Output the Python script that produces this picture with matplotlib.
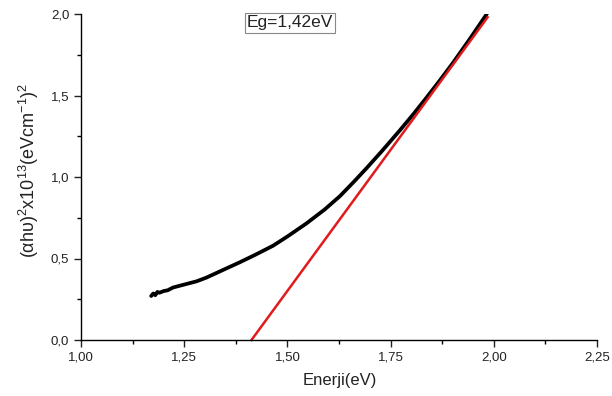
import matplotlib
matplotlib.use("Agg")
import matplotlib.pyplot as plt
from matplotlib.ticker import MultipleLocator, FuncFormatter

plt.rcParams['font.family'] = ['Liberation Sans', 'DejaVu Sans']
plt.rcParams['mathtext.default'] = 'regular'

energy = [1.170, 1.175, 1.180, 1.185, 1.190, 1.20, 1.21, 1.223, 1.25, 1.28,
          1.304, 1.34, 1.384, 1.42, 1.465, 1.50, 1.546, 1.59, 1.627, 1.66,
          1.691, 1.73, 1.772, 1.805, 1.837, 1.87, 1.901, 1.94, 1.983]
absorb = [0.27, 0.285, 0.275, 0.295, 0.29, 0.30, 0.305, 0.322, 0.34, 0.36,
          0.383, 0.425, 0.476, 0.52, 0.578, 0.635, 0.715, 0.80, 0.882, 0.968,
          1.052, 1.162, 1.285, 1.385, 1.487, 1.595, 1.70, 1.84, 2.00]

# linear fit (Tauc extrapolation)
fit_x = [1.413, 1.985]
fit_y = [0.0, 1.98]
gap_label = "Eg=1,42eV"

fig = plt.figure(figsize=(6.12, 3.96), dpi=100)
ax = fig.add_axes([81 / 612, 56 / 396, 516 / 612, 326 / 396])

ax.plot(energy, absorb, color='black', lw=2.7, solid_capstyle='round')
ax.plot(fit_x, fit_y, color='#e01b1b', lw=1.8, clip_on=False)

ax.set_xlim(1.0, 2.25)
ax.set_ylim(0.0, 2.0)
ax.xaxis.set_major_locator(MultipleLocator(0.25))
ax.xaxis.set_minor_locator(MultipleLocator(0.125))
ax.yaxis.set_major_locator(MultipleLocator(0.5))
ax.yaxis.set_minor_locator(MultipleLocator(0.25))
ax.xaxis.set_major_formatter(FuncFormatter(lambda v, p: ('%.2f' % v).replace('.', ',')))
ax.yaxis.set_major_formatter(FuncFormatter(lambda v, p: ('%.1f' % v).replace('.', ',')))

for s in ['top', 'right']:
    ax.spines[s].set_visible(False)
for s in ['left', 'bottom']:
    ax.spines[s].set_linewidth(1.0)
ax.tick_params(which='major', direction='out', length=5, width=1, labelsize=9.5, colors='#222222')
ax.tick_params(which='minor', direction='out', length=3, width=1)
ax.tick_params(axis='x', pad=3)

ax.set_xlabel("Enerji(eV)", fontsize=12, color='#222222')
ax.xaxis.set_label_coords(0.502, -0.10)
ax.set_ylabel("(αhυ)$^{2}$x10$^{13}$(eVcm$^{-1}$)$^{2}$", fontsize=13, color='#222222')
ax.yaxis.set_label_coords(-0.078, 0.52)

fig.text(290 / 612, 1 - 23 / 396, gap_label, ha='center', va='center', fontsize=12.5,
         color='#222222',
         bbox=dict(boxstyle='square,pad=0.12', fc='white', ec='#888888', lw=0.8))

fig.savefig("out.png", dpi=100)
